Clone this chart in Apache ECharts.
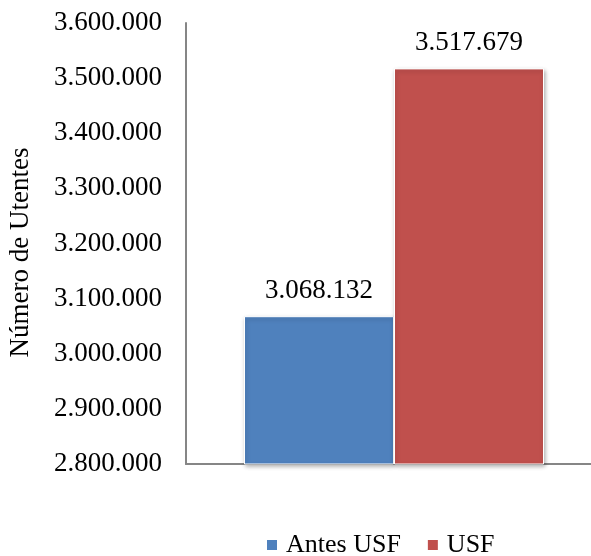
<!DOCTYPE html>
<html>
<head>
<meta charset="utf-8">
<script src="https://cdn.jsdelivr.net/npm/echarts@6/dist/echarts.min.js"></script>
<style>
html,body{margin:0;padding:0;background:#fff;}
#chart{width:591px;height:556px;}
</style>
</head>
<body>
<div id="chart"></div>
<script>
// Número de utentes antes e depois das USF
const seriesNames = ['Antes USF', 'USF'];
const seriesValues = [3068132, 3517679];
const seriesColors = ['#4F81BD', '#C0504D'];
const yTicks = [2800000, 2900000, 3000000, 3100000, 3200000, 3300000, 3400000, 3500000, 3600000];

function fmt(v) {
  return String(Math.round(v)).replace(/\B(?=(\d{3})+(?!\d))/g, '.');
}

const font = 'Liberation Serif';
const chart = echarts.init(document.getElementById('chart'));
chart.setOption({
  animation: false,
  backgroundColor: '#fff',
  textStyle: { fontFamily: font },
  grid: { left: 186, right: -11, top: 23, bottom: 92, outerBoundsMode: 'none', containLabel: false },
  legend: {
    top: 532,
    left: 265,
    padding: 0,
    itemWidth: 12,
    itemHeight: 12,
    itemGap: 25,
    icon: 'rect',
    textStyle: { fontFamily: font, fontSize: 26, color: '#000', padding: [0, 0, 0, 3] },
    data: seriesNames
  },
  xAxis: {
    type: 'category',
    data: [''],
    axisLine: { lineStyle: { color: '#868686', width: 2 } },
    axisTick: { show: false },
    axisLabel: { show: false }
  },
  yAxis: {
    type: 'value',
    min: yTicks[0],
    max: yTicks[yTicks.length - 1],
    interval: 100000,
    name: 'Número de Utentes',
    nameLocation: 'middle',
    nameGap: 152,
    nameTextStyle: { fontFamily: font, fontSize: 27, color: '#000', padding: [0, 18, 0, 0] },
    axisLine: { show: true, lineStyle: { color: '#868686', width: 2 } },
    axisTick: { show: false },
    splitLine: { show: false },
    axisLabel: {
      formatter: fmt,
      fontFamily: font,
      fontSize: 27,
      color: '#000',
      margin: 24
    }
  },
  series: seriesNames.map((name, i) => ({
    name: name,
    type: 'bar',
    data: [seriesValues[i]],
    barWidth: 150,
    barGap: '0%',
    itemStyle: {
      color: seriesColors[i],
      borderColor: '#fff',
      borderWidth: 1,
      shadowColor: 'rgba(0,0,0,0.3)',
      shadowBlur: 4,
      shadowOffsetX: 1,
      shadowOffsetY: 2
    },
    label: {
      show: true,
      position: 'top',
      distance: 12,
      formatter: p => fmt(p.value),
      fontFamily: font,
      fontSize: 27,
      color: '#000'
    }
  }))
});
</script>
</body>
</html>
